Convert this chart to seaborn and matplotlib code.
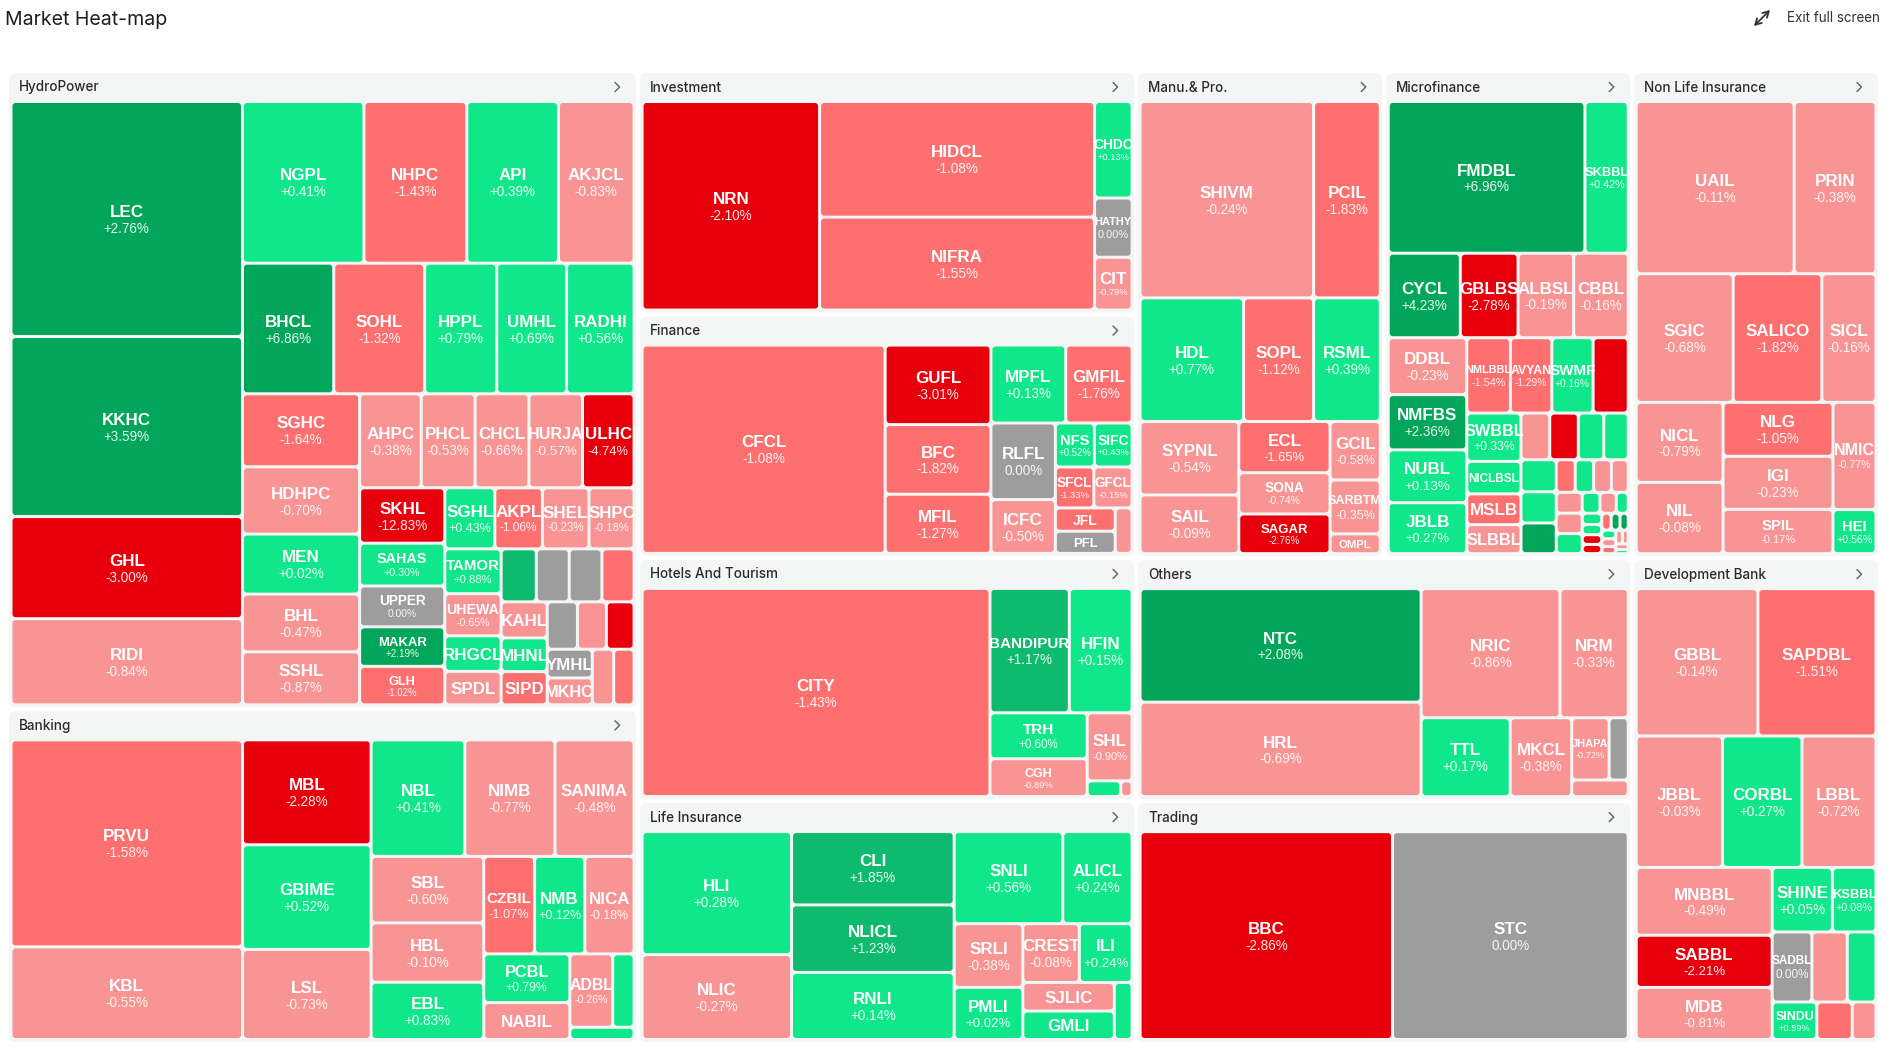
import numpy as np
import pandas as pd
import matplotlib
matplotlib.use("Agg")
import matplotlib.pyplot as plt
from matplotlib.patches import FancyBboxPatch
import seaborn as sns

# ----------------------------------------------------------------- data
sectors = ["HydroPower", "Banking", "Investment", "Finance", "Hotels And Tourism",
           "Life Insurance", "Manu.& Pro.", "Microfinance", "Non Life Insurance",
           "Others", "Trading", "Development Bank"]
sector_caps = [403.2, 211.4, 121.4, 121.3, 121.2, 121.1, 121.0, 120.9, 120.8, 120.7, 120.6, 120.5]

hydro_symbols = ["LEC", "KKHC", "GHL", "RIDI", "NGPL", "NHPC", "API", "AKJCL", "BHCL", "SOHL",
                 "HPPL", "UMHL", "RADHI", "SGHC", "HDHPC", "MEN", "BHL", "SSHL", "AHPC", "PHCL",
                 "CHCL", "HURJA", "ULHC", "SKHL", "SAHAS", "UPPER", "MAKAR", "GLH", "SGHL", "AKPL",
                 "SHEL", "SHPC", "TAMOR", "UHEWA", "RHGCL", "SPDL", "", "", "", "",
                 "KAHL", "MHNL", "SIPD", "", "", "", "YMHL", "MKHC", "", ""]
hydro_caps = [54.3, 41.6, 23.6, 19.9, 19.6, 16.6, 14.8, 12.2, 11.9, 11.85,
              9.4, 9.1, 8.8, 8.54, 7.87, 7.02, 6.75, 6.2, 5.78, 5.06,
              5.05, 5.03, 4.84, 4.71, 3.64, 3.47, 3.36, 3.27, 3.05, 2.90,
              2.84, 2.75, 2.52, 2.37, 2.0, 1.88, 1.86, 1.74, 1.73, 1.70,
              1.66, 1.55, 1.53, 1.43, 1.37, 1.31, 1.29, 1.21, 1.19, 1.13]
hydro_change = [2.76, 3.59, -3.00, -0.84, 0.41, -1.43, 0.39, -0.83, 6.86, -1.32,
                0.79, 0.69, 0.56, -1.64, -0.70, 0.02, -0.47, -0.87, -0.38, -0.53,
                -0.66, -0.57, -4.74, -12.83, 0.30, 0.00, 2.19, -1.02, 0.43, -1.06,
                -0.23, -0.18, 0.88, -0.65, 0.50, -0.50, 1.50, 0.00, 0.00, -1.50,
                -0.50, 0.50, -1.50, 0.00, -0.50, -2.50, 0.00, -0.50, -0.50, -1.50]

bank_symbols = ["PRVU", "KBL", "MBL", "GBIME", "LSL", "NBL", "NIMB", "SANIMA", "SBL", "HBL",
                "EBL", "CZBIL", "NMB", "NICA", "PCBL", "NABIL", "ADBL", "", ""]
bank_caps = [47.6, 21.3, 13.4, 13.36, 11.5, 10.85, 10.44, 9.16, 7.43, 6.64,
             6.41, 4.92, 4.86, 4.77, 4.16, 3.16, 3.12, 1.56, 0.78]
bank_change = [-1.58, -0.55, -2.28, 0.52, -0.73, 0.41, -0.77, -0.48, -0.60, -0.10,
               0.83, -1.07, 0.12, -0.18, 0.79, -0.50, -0.26, 0.50, 0.50]

invest_symbols = ["NRN", "HIDCL", "NIFRA", "CHDC", "HATHY", "CIT"]
invest_caps = [36.8, 31.6, 25.4, 3.6, 2.21, 1.97]
invest_change = [-2.10, -1.08, -1.55, 0.13, 0.00, -0.79]

finance_symbols = ["CFCL", "GUFL", "BFC", "MFIL", "MPFL", "GMFIL", "RLFL", "ICFC", "NFS", "SIFC",
                   "SFCL", "GFCL", "JFL", "PFL", ""]
finance_caps = [50.8, 8.44, 7.39, 6.28, 5.85, 5.19, 4.95, 3.48, 1.72, 1.66,
                1.58, 1.57, 1.40, 1.33, 0.77]
finance_change = [-1.08, -3.01, -1.82, -1.27, 0.13, -1.76, 0.00, -0.50, 0.52, 0.43,
                  -1.33, -0.15, -1.50, 0.00, -0.50]

hotel_symbols = ["CITY", "BANDIPUR", "HFIN", "TRH", "CGH", "SHL", "", ""]
hotel_caps = [73.0, 9.95, 7.87, 4.5, 3.71, 3.08, 0.53, 0.18]
hotel_change = [-1.43, 1.17, 0.15, 0.60, -0.89, -0.90, 0.50, -0.50]

life_symbols = ["HLI", "NLIC", "CLI", "NLICL", "RNLI", "SNLI", "ALICL", "SRLI", "PMLI", "CREST",
                "ILI", "SJLIC", "GMLI", ""]
life_caps = [18.5, 12.77, 12.0, 11.05, 10.97, 10.07, 6.42, 4.4, 3.6, 3.34,
             3.12, 2.63, 2.62, 1.02]
life_change = [0.28, -0.27, 1.85, 1.23, 0.14, 0.56, 0.24, -0.38, 0.02, -0.08,
               0.24, -0.50, 0.50, 0.50]

manu_symbols = ["SHIVM", "PCIL", "HDL", "SOPL", "RSML", "SYPNL", "SAIL", "ECL", "SONA", "SAGAR",
                "GCIL", "SARBTM", "OMPL"]
manu_caps = [34.1, 13.1, 12.8, 8.66, 8.25, 7.26, 5.79, 4.68, 3.77, 3.62, 2.94, 2.71, 0.99]
manu_change = [-0.24, -1.83, 0.77, -1.12, 0.39, -0.54, -0.09, -1.65, -0.74, -2.76,
               -0.58, -0.35, -0.50]

micro_symbols = ["FMDBL", "SKBBL", "CYCL", "GBLBS", "ALBSL", "CBBL", "DDBL", "NMFBS", "NUBL", "JBLB",
                 "NMLBBL", "AVYAN", "SWMF", "", "SWBBL", "NICLBSL", "MSLB", "SLBBL"] + [""] * 31
micro_caps = [29.85, 6.57, 6.09, 4.88, 4.70, 4.61, 4.47, 4.34, 4.15, 4.00,
              3.29, 3.12, 3.11, 2.65, 2.62, 1.76, 1.67, 1.57,
              1.34, 1.335, 1.19, 1.14, 1.13, 1.10, 1.08,
              0.62, 0.60, 0.58, 0.55, 0.54, 0.53, 0.52,
              0.37, 0.34, 0.25, 0.22, 0.20, 0.19, 0.18, 0.16, 0.15, 0.14,
              0.12, 0.11, 0.10, 0.09, 0.08, 0.07, 0.05]
micro_change = [6.96, 0.42, 4.23, -2.78, -0.19, -0.16, -0.23, 2.36, 0.13, 0.27,
                -1.54, -1.29, 0.16, -2.50, 0.33, 0.50, -1.50, -0.50,
                -0.50, -2.50, 0.50, 0.50, 0.50, 0.50, 2.50,
                -1.50, 0.50, -0.50, -0.50, -0.50, -0.50, 0.50,
                0.50, -0.50, 0.50, 0.50, 0.50, -2.50, -2.50, -1.50, 2.50, 2.50,
                0.50, -0.50, -1.50, -0.50, -0.50, -0.50, 0.50]

nonlife_symbols = ["UAIL", "PRIN", "SGIC", "SALICO", "SICL", "NICL", "NIL", "NLG", "IGI", "SPIL",
                   "NMIC", "HEI"]
nonlife_caps = [27.4, 14.2, 12.56, 11.5, 7.02, 7.0, 6.23, 5.97, 5.87, 4.9, 4.65, 1.91]
nonlife_change = [-0.11, -0.38, -0.68, -1.82, -0.16, -0.79, -0.08, -1.05, -0.23, -0.17,
                  -0.77, 0.56]

others_symbols = ["NTC", "HRL", "NRIC", "NRM", "TTL", "MKCL", "JHAPA", "", ""]
others_caps = [32.2, 26.8, 18.1, 8.89, 7.09, 4.9, 2.35, 1.20, 0.95]
others_change = [2.08, -0.69, -0.86, -0.33, 0.17, -0.38, -0.72, 0.00, -0.50]

trading_symbols = ["BBC", "STC"]
trading_caps = [52.9, 49.4]
trading_change = [-2.86, 0.00]

dev_symbols = ["GBBL", "SAPDBL", "JBBL", "CORBL", "LBBL", "MNBBL", "SABBL", "MDB", "SHINE", "KSBBL",
               "SADBL", "", "", "SINDU", "", ""]
dev_caps = [18.1, 17.56, 11.45, 10.54, 9.82, 9.3, 7.16, 7.14, 3.92, 2.84,
            2.81, 2.5, 2.03, 1.69, 1.34, 0.9]
dev_change = [-0.14, -1.51, -0.03, 0.27, -0.72, -0.49, -2.21, -0.81, 0.05, 0.08,
              0.00, -0.50, 0.50, 0.59, -1.50, -0.50]

sector_members = {
    "HydroPower": (hydro_symbols, hydro_caps, hydro_change),
    "Banking": (bank_symbols, bank_caps, bank_change),
    "Investment": (invest_symbols, invest_caps, invest_change),
    "Finance": (finance_symbols, finance_caps, finance_change),
    "Hotels And Tourism": (hotel_symbols, hotel_caps, hotel_change),
    "Life Insurance": (life_symbols, life_caps, life_change),
    "Manu.& Pro.": (manu_symbols, manu_caps, manu_change),
    "Microfinance": (micro_symbols, micro_caps, micro_change),
    "Non Life Insurance": (nonlife_symbols, nonlife_caps, nonlife_change),
    "Others": (others_symbols, others_caps, others_change),
    "Trading": (trading_symbols, trading_caps, trading_change),
    "Development Bank": (dev_symbols, dev_caps, dev_change),
}

# ----------------------------------------------------------------- style
W, H, DPI = 1888, 1057, 100
sns.set_theme(style="white")
plt.rcParams["font.family"] = ["Liberation Sans", "DejaVu Sans"]

palette = sns.color_palette(["#e7000b", "#fe6f6f", "#f99494", "#9c9d9c",
                             "#10e68a", "#0dba6e", "#02a65a"])


def change_color(c):
    if c == 0:
        return palette[3]
    if c > 0:
        return palette[4] if c < 1 else (palette[5] if c < 2 else palette[6])
    return palette[2] if c > -1 else (palette[1] if c > -2 else palette[0])


def px(v):
    return v * 72.0 / DPI


# ----------------------------------------------------------------- squarified layout
PHI = 0.5 * (1 + 5 ** 0.5)


def worst(row, fixed):
    s = sum(row)
    if s <= 0:
        return np.inf
    f = fixed * fixed * PHI
    return max(f * max(row) / (s * s), (s * s) / (f * min(row)))


def place(row, fixed, rect, flush, out):
    x, y, w, h = rect
    horiz = fixed == w
    other = sum(row) / fixed if fixed else 0.0
    avail = h if horiz else w
    if flush or other > avail:
        other = avail
    start = x if horiz else y
    end = start + (w if horiz else h)
    last = start
    for i, a in enumerate(row):
        step = a / other if other else 0.0
        remain = end - last
        ln = remain if (i == len(row) - 1 or remain < step) else step
        out.append((last, y, ln, other) if horiz else (x, last, other, ln))
        last += ln
    if horiz:
        rect[1] += other
        rect[3] -= other
    else:
        rect[0] += other
        rect[2] -= other


def squarify(values, x, y, w, h):
    total = float(sum(values))
    areas = [v / total * w * h for v in values]
    rect = [x, y, w, h]
    out, row = [], []
    fixed = min(w, h)
    best = np.inf
    i = 0
    while i < len(areas):
        row.append(areas[i])
        score = worst(row, fixed)
        if score <= best:
            best = score
            i += 1
        else:
            row.pop()
            place(row, fixed, rect, False, out)
            fixed = min(rect[2], rect[3])
            row, best = [], np.inf
    if row:
        place(row, fixed, rect, True, out)
    return out


# ----------------------------------------------------------------- figure
fig = plt.figure(figsize=(W / DPI, H / DPI), dpi=DPI)
fig.patch.set_facecolor("white")
ax = fig.add_axes([0, 0, 1, 1])
ax.set_xlim(0, W)
ax.set_ylim(H, 0)
ax.axis("off")

ax.text(5, 25, "Market Heat-map", fontsize=px(19.5), color="#1e1e1e",
        family=["Inter", "DejaVu Sans"], va="baseline", ha="left")
ax.text(1880, 18, "Exit full screen", fontsize=px(13.5), color="#333333",
        family=["Inter", "DejaVu Sans"], va="center", ha="right")
ax.annotate("", xy=(1770, 10), xytext=(1754, 26),
            arrowprops=dict(arrowstyle="<->,head_length=0.35,head_width=0.2",
                            color="#333333", lw=1.3, shrinkA=0, shrinkB=0))

OUT_X, OUT_Y, OUT_W, OUT_H = 7, 71, 1873, 973
SEC_GAP, HEADER, PAD, CELL_GAP = 2.0, 28.5, 2.0, 1.5

sec_order = sorted(range(len(sectors)), key=lambda k: -sector_caps[k])
sec_rects = squarify([sector_caps[k] for k in sec_order], OUT_X, OUT_Y, OUT_W, OUT_H)


def draw_label(patch, x, y, w, h, name, chg):
    if not name or w < 33.0 or h < 15:
        return
    mx, my = x + w / 2, y + h / 2
    pct = "0.00%" if chg == 0 else f"{chg:+.2f}%"
    if h >= 34:
        n_px = min(17.0, 1.6 * w / len(name), 0.36 * h)
        p_px = min(13.5, 1.6 * w / len(pct), 0.27 * h)
        b1 = my + (0.72 * n_px - 1.18 * p_px) / 2
        t1 = ax.text(mx, b1, name, fontsize=px(n_px), fontweight="bold", color="white",
                     ha="center", va="baseline")
        t2 = ax.text(mx, b1 + 1.18 * p_px, pct, fontsize=px(p_px), color="white", alpha=0.9,
                     ha="center", va="baseline")
        for t in (t1, t2):
            t.set_clip_path(patch)
    else:
        n_px = min(17.0, 1.6 * w / len(name), 0.68 * h)
        t1 = ax.text(mx, my + 0.36 * n_px, name, fontsize=px(n_px), fontweight="bold",
                     color="white", ha="center", va="baseline")
        t1.set_clip_path(patch)


for k, (sx, sy, sw, sh) in zip(sec_order, sec_rects):
    name = sectors[k]
    px0, py0 = sx + SEC_GAP, sy + SEC_GAP
    pw, ph = sw - 2 * SEC_GAP, sh - 2 * SEC_GAP
    ax.add_patch(FancyBboxPatch((px0, py0), pw, ph,
                                boxstyle="round,pad=0,rounding_size=7",
                                fc="#f4f5f5", ec="none", zorder=1))
    ax.text(px0 + 10, py0 + 14.5, name, fontsize=px(13.5), color="#2a2a2a",
            family=["Inter", "DejaVu Sans"], fontweight="medium", va="center", ha="left", zorder=3)
    cx = px0 + pw - 18
    ax.plot([cx - 3, cx + 1.5, cx - 3], [py0 + 9.5, py0 + 14, py0 + 18.5],
            color="#6b6b6b", lw=1.1, solid_capstyle="round", zorder=3)

    syms, caps, chgs = sector_members[name]
    df = pd.DataFrame({"sym": syms, "cap": caps, "chg": chgs})
    df = df.sort_values("cap", ascending=False, kind="stable").reset_index(drop=True)
    rx, ry = px0 + PAD, py0 + HEADER
    rw, rh = pw - 2 * PAD, ph - HEADER - 2.5
    cells = squarify(df["cap"].tolist(), rx, ry, rw, rh)
    for (x, y, w, h), row in zip(cells, df.itertuples()):
        x0, y0 = x + CELL_GAP, y + CELL_GAP
        w0, h0 = max(w - 2 * CELL_GAP, 0.5), max(h - 2 * CELL_GAP, 0.5)
        rs = min(3.0, w0 / 2, h0 / 2)
        patch = FancyBboxPatch((x0, y0), w0, h0,
                               boxstyle=f"round,pad=0,rounding_size={rs}",
                               fc=change_color(row.chg), ec="none", zorder=2)
        ax.add_patch(patch)
        draw_label(patch, x0, y0, w0, h0, row.sym, row.chg)

fig.savefig("out.png", dpi=DPI, facecolor="white")
